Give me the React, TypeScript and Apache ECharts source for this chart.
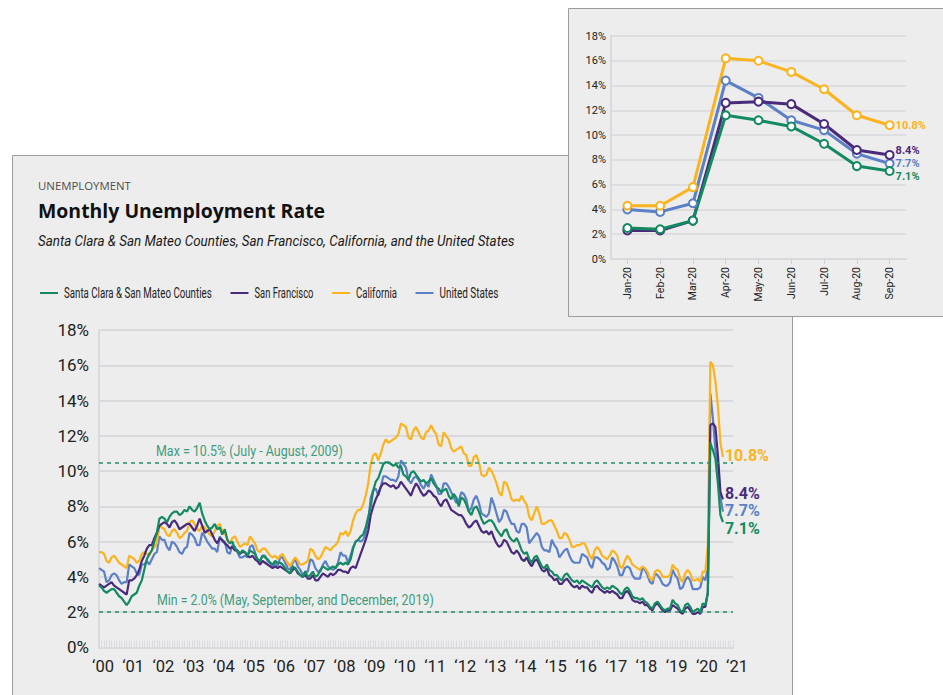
import { useEffect, useRef } from "react";
import * as echarts from "echarts";

// Monthly values, Jan 2000 .. Sep 2020 (percent)
const santaClara = [
  3.5, 3.4, 3.2, 3.1, 3.2, 3.3, 3.3, 3.1, 2.9, 2.8, 2.6, 2.4,
  2.6, 2.9, 3.0, 3.1, 3.5, 3.8, 4.4, 5.0, 5.3, 5.5, 6.0, 6.5,
  7.3, 7.4, 7.3, 7.1, 7.4, 7.6, 7.7, 7.7, 7.5, 7.6, 7.8, 7.7,
  8.0, 7.8, 7.7, 7.9, 8.2, 7.6, 7.2, 6.9, 6.7, 6.8, 7.0, 6.7,
  6.8, 6.4, 6.7, 6.1, 5.9, 6.0, 5.6, 5.5, 5.3, 5.5, 5.4, 5.2,
  5.5, 5.4, 5.3, 5.0, 4.9, 5.2, 5.1, 5.0, 4.8, 4.7, 4.9, 4.8,
  4.8, 4.7, 4.5, 4.3, 4.2, 4.6, 4.5, 4.3, 4.1, 4.0, 4.3, 4.0,
  4.1, 4.3, 4.0, 4.1, 4.4, 4.6, 4.5, 4.4, 4.5, 4.6, 4.5, 4.7,
  4.8, 4.7, 4.8, 4.7, 5.0, 5.6, 6.0, 6.1, 6.3, 6.4, 6.8, 7.4,
  8.0, 8.9, 9.4, 9.6, 10.0, 10.4, 10.5, 10.5, 10.4, 10.3, 10.4, 10.2,
  10.3, 9.8, 9.7, 9.5, 9.9, 10.0, 9.8, 9.6, 9.4, 9.5, 9.3, 9.4,
  9.6, 9.3, 9.1, 9.0, 8.8, 8.9, 9.0, 8.6, 8.4, 8.7, 8.5, 8.0,
  8.5, 8.4, 8.1, 7.7, 7.5, 7.9, 8.0, 7.7, 7.3, 7.0, 7.1, 7.2,
  7.2, 7.0, 6.7, 6.5, 6.3, 6.6, 6.7, 6.3, 6.1, 6.0, 6.2, 5.9,
  5.5, 5.3, 5.4, 5.0, 4.8, 5.1, 5.2, 4.9, 4.6, 4.5, 4.7, 4.4,
  4.3, 4.1, 4.1, 3.9, 3.8, 4.1, 4.2, 4.0, 3.8, 3.7, 3.8, 3.6,
  3.8, 3.7, 3.6, 3.5, 3.4, 3.7, 3.8, 3.6, 3.4, 3.3, 3.4, 3.3,
  3.5, 3.4, 3.3, 3.1, 3.0, 3.3, 3.4, 3.2, 2.9, 2.8, 2.8, 2.7,
  2.8, 2.6, 2.5, 2.3, 2.2, 2.5, 2.6, 2.4, 2.2, 2.1, 2.2, 2.2,
  2.7, 2.5, 2.4, 2.1, 2.0, 2.4, 2.5, 2.3, 2.0, 2.1, 2.2, 2.0,
  2.5, 2.4, 3.1, 11.6, 11.2, 10.7, 9.3, 7.5, 7.1,
];

const sanFrancisco = [
  3.6, 3.5, 3.4, 3.5, 3.6, 3.7, 3.5, 3.4, 3.3, 3.2, 3.1, 3.0,
  3.8, 3.8, 3.9, 4.1, 4.4, 4.9, 5.2, 5.6, 5.8, 5.8, 6.2, 6.5,
  6.9, 7.0, 7.1, 7.0, 6.8, 7.1, 7.2, 7.0, 6.7, 6.8, 6.9, 7.0,
  7.0, 6.8, 6.6, 6.9, 7.3, 6.9, 6.5, 6.6, 6.7, 6.4, 6.1, 5.9,
  6.2, 6.1, 5.9, 5.8, 5.6, 5.7, 5.5, 5.5, 5.3, 5.4, 5.4, 5.2,
  5.1, 5.2, 5.0, 4.9, 4.7, 4.9, 4.8, 4.7, 4.6, 4.5, 4.6, 4.5,
  4.6, 4.5, 4.4, 4.3, 4.2, 4.4, 4.5, 4.2, 4.1, 4.0, 4.1, 3.9,
  3.9, 4.1, 3.8, 3.8, 4.0, 4.2, 4.1, 4.0, 4.2, 4.1, 4.2, 4.4,
  4.4, 4.3, 4.3, 4.2, 4.5, 4.6, 4.5, 4.9, 5.3, 5.7, 6.1, 6.6,
  7.5, 8.0, 8.4, 8.7, 9.1, 9.3, 9.3, 9.2, 9.1, 9.2, 9.0, 9.1,
  9.4, 9.2, 9.0, 8.8, 8.6, 9.0, 9.3, 9.1, 8.8, 8.6, 8.7, 8.9,
  8.8, 8.6, 8.5, 8.2, 8.0, 8.3, 8.4, 8.1, 7.8, 7.7, 7.6, 7.5,
  7.5, 7.3, 7.0, 6.8, 6.9, 7.1, 7.2, 6.9, 6.6, 6.5, 6.6, 6.4,
  6.6, 6.2, 5.9, 5.7, 5.8, 6.1, 6.0, 5.7, 5.4, 5.3, 5.5, 5.3,
  5.0, 4.9, 5.1, 4.8, 4.6, 4.9, 5.0, 4.7, 4.4, 4.3, 4.5, 4.1,
  4.0, 3.8, 3.9, 3.6, 3.6, 3.8, 3.9, 3.7, 3.5, 3.4, 3.5, 3.3,
  3.5, 3.4, 3.4, 3.2, 3.1, 3.4, 3.5, 3.3, 3.2, 3.1, 3.2, 3.1,
  3.2, 3.1, 3.0, 2.8, 2.8, 3.1, 3.2, 3.0, 2.7, 2.6, 2.6, 2.5,
  2.6, 2.4, 2.4, 2.2, 2.1, 2.4, 2.5, 2.3, 2.1, 2.0, 2.1, 2.1,
  2.4, 2.3, 2.2, 2.0, 1.9, 2.2, 2.3, 2.1, 1.9, 1.9, 2.0, 1.9,
  2.3, 2.3, 3.1, 12.6, 12.7, 12.5, 10.9, 8.8, 8.4,
];

const california = [
  5.4, 5.4, 5.3, 4.9, 4.8, 5.1, 5.2, 5.0, 4.8, 4.7, 4.6, 4.5,
  5.2, 5.1, 5.0, 4.8, 4.9, 5.3, 5.4, 5.3, 5.2, 5.5, 5.7, 5.9,
  6.9, 6.8, 6.7, 6.4, 6.3, 6.6, 6.7, 6.5, 6.2, 6.3, 6.5, 6.6,
  7.1, 7.2, 7.0, 6.7, 6.6, 6.9, 6.8, 6.6, 6.4, 6.3, 6.6, 6.9,
  7.0, 6.6, 6.5, 6.1, 5.9, 6.2, 6.3, 6.0, 5.7, 5.8, 5.9, 5.8,
  6.3, 6.1, 5.9, 5.5, 5.4, 5.6, 5.6, 5.4, 5.2, 5.1, 5.2, 5.0,
  5.2, 5.3, 5.0, 4.8, 4.6, 4.9, 5.1, 4.9, 4.7, 4.7, 4.8, 4.9,
  5.6, 5.5, 5.2, 5.0, 5.1, 5.4, 5.7, 5.6, 5.5, 5.7, 5.8, 6.0,
  6.5, 6.4, 6.6, 6.3, 6.6, 7.2, 7.6, 7.8, 7.8, 8.1, 8.6, 9.3,
  10.4, 10.9, 11.0, 10.6, 11.0, 11.5, 11.8, 11.6, 11.7, 11.8, 11.9, 12.1,
  12.7, 12.6, 12.5, 11.9, 11.8, 12.3, 12.5, 12.2, 11.9, 11.8, 12.2, 12.3,
  12.6, 12.3, 12.1, 11.5, 11.4, 12.2, 12.0, 11.8, 11.3, 11.1, 11.2, 11.3,
  11.4, 11.0, 10.9, 10.3, 10.3, 10.8, 10.9, 10.5, 9.8, 9.7, 9.8, 10.2,
  10.0, 9.7, 9.3, 8.8, 8.6, 9.4, 9.3, 8.9, 8.4, 8.3, 8.4, 8.3,
  8.6, 8.3, 8.1, 7.4, 7.2, 7.6, 8.0, 7.6, 7.0, 7.0, 7.1, 7.2,
  7.2, 6.9, 6.6, 6.2, 6.2, 6.5, 6.4, 6.1, 5.7, 5.7, 5.8, 5.8,
  5.9, 5.9, 5.6, 5.2, 5.0, 5.5, 5.7, 5.5, 5.2, 5.1, 5.0, 5.2,
  5.5, 5.4, 5.2, 4.6, 4.5, 4.9, 5.2, 5.0, 4.7, 4.6, 4.5, 4.4,
  4.6, 4.5, 4.3, 3.9, 3.8, 4.3, 4.4, 4.3, 4.0, 4.0, 4.0, 4.1,
  4.7, 4.5, 4.4, 3.9, 3.7, 4.2, 4.4, 4.2, 3.8, 3.8, 3.9, 3.7,
  4.3, 4.3, 5.8, 16.2, 16.0, 15.1, 13.7, 11.6, 10.8,
];

const unitedStates = [
  4.5, 4.4, 4.3, 3.7, 3.8, 4.1, 4.2, 4.1, 3.8, 3.6, 3.7, 3.7,
  4.7, 4.6, 4.5, 4.2, 4.1, 4.7, 4.7, 4.9, 4.7, 5.0, 5.3, 5.4,
  6.3, 6.1, 6.1, 5.7, 5.5, 6.0, 5.9, 5.7, 5.4, 5.3, 5.6, 5.7,
  6.5, 6.4, 6.2, 5.8, 5.8, 6.5, 6.3, 6.0, 5.8, 5.6, 5.6, 5.4,
  6.3, 6.0, 6.0, 5.4, 5.3, 5.8, 5.7, 5.4, 5.1, 5.1, 5.2, 5.1,
  5.7, 5.8, 5.4, 4.9, 4.9, 5.2, 5.2, 4.9, 4.8, 4.6, 4.8, 4.6,
  5.1, 5.1, 4.8, 4.5, 4.4, 4.8, 5.0, 4.6, 4.4, 4.1, 4.3, 4.3,
  5.0, 4.9, 4.5, 4.3, 4.3, 4.7, 4.9, 4.6, 4.5, 4.4, 4.5, 4.8,
  5.4, 5.2, 5.2, 4.8, 5.2, 5.7, 6.0, 6.1, 6.0, 6.1, 6.5, 7.1,
  8.5, 8.9, 9.0, 8.6, 9.1, 9.7, 9.7, 9.6, 9.5, 9.5, 9.4, 9.7,
  10.6, 10.4, 10.2, 9.5, 9.3, 9.6, 9.7, 9.5, 9.2, 9.0, 9.3, 9.1,
  9.8, 9.5, 9.2, 8.7, 8.7, 9.3, 9.3, 9.1, 8.8, 8.5, 8.2, 8.3,
  8.8, 8.7, 8.4, 7.7, 7.9, 8.4, 8.6, 8.2, 7.6, 7.5, 7.4, 7.6,
  8.5, 8.1, 7.6, 7.1, 7.3, 7.8, 7.7, 7.3, 7.0, 7.0, 6.6, 6.5,
  7.0, 7.0, 6.8, 5.9, 6.1, 6.3, 6.5, 6.3, 5.7, 5.5, 5.5, 5.4,
  6.1, 5.8, 5.6, 5.1, 5.3, 5.5, 5.6, 5.2, 4.9, 4.8, 4.8, 4.8,
  5.3, 5.2, 5.1, 4.7, 4.5, 5.1, 5.1, 5.0, 4.8, 4.7, 4.4, 4.5,
  5.1, 4.9, 4.6, 4.1, 4.1, 4.5, 4.6, 4.5, 4.1, 3.9, 3.9, 3.9,
  4.5, 4.4, 4.1, 3.7, 3.6, 4.2, 4.1, 3.9, 3.6, 3.5, 3.5, 3.7,
  4.4, 4.1, 3.9, 3.3, 3.4, 3.8, 4.0, 3.8, 3.3, 3.3, 3.3, 3.4,
  4.0, 3.8, 4.5, 14.4, 13.0, 11.2, 10.4, 8.5, 7.7,
];

const seriesNames = [
  "Santa Clara & San Mateo Counties",
  "San Francisco",
  "California",
  "United States",
];
const yearLabels = [
  "‘00", "‘01", "‘02", "‘03", "‘04", "‘05", "‘06", "‘07", "‘08", "‘09", "‘10",
  "‘11", "‘12", "‘13", "‘14", "‘15", "‘16", "‘17", "‘18", "‘19", "‘20", "‘21",
];
const insetMonths = ["Jan-20", "Feb-20", "Mar-20", "Apr-20", "May-20", "Jun-20", "Jul-20", "Aug-20", "Sep-20"];
const insetStart = 240; // Jan 2020 index
const maxValue = 10.5;
const minValue = 2.0;
const maxText = "Max = 10.5% (July - August, 2009)";
const minText = "Min = 2.0% (May, September, and December, 2019)";
const kicker = "UNEMPLOYMENT";
const title = "Monthly Unemployment Rate";
const subtitle = "Santa Clara & San Mateo Counties, San Francisco, California, and the United States";

const COLORS = ["#138a61", "#4a2b7b", "#fbb31e", "#5b80c6"]; // same order as seriesNames
const FONT = "Roboto";

function measure(text: string, font: string) {
  const ctx = document.createElement("canvas").getContext("2d")!;
  ctx.font = font;
  return ctx.measureText(text).width;
}

// text squeezed horizontally to a target width (the original uses a condensed face)
function squeezed(
  text: string,
  x: number,
  y: number,
  width: number,
  size: number,
  fill: string,
  opts: { weight?: string; style?: string; family?: string } = {}
) {
  const family = opts.family ?? FONT;
  const weight = opts.weight ?? "normal";
  const fstyle = opts.style ?? "normal";
  const w = measure(text, `${fstyle} ${weight} ${size}px ${family}`);
  return {
    type: "text",
    x,
    y,
    scaleX: w > 0 ? width / w : 1,
    z: 5,
    style: {
      text,
      fill,
      fontFamily: family,
      fontSize: size,
      fontWeight: weight,
      fontStyle: fstyle,
      align: "left",
      verticalAlign: "middle",
    },
  };
}

export default function App() {
  const ref = useRef<HTMLDivElement>(null);

  useEffect(() => {
    if (!ref.current) return;
    const chart = echarts.init(ref.current, undefined, { renderer: "svg" });

    const toPairs = (arr: number[]) => arr.map((v, i) => [i, v]);
    const allData = [santaClara, sanFrancisco, california, unitedStates];
    const mainOffsets = [6, -6, -1, -1];
    const insetOffsets = [5, -4, 0, 0];
    const drawOrder = [3, 2, 1, 0];

    const mainSeries: any[] = drawOrder.map((k) => ({
      type: "line",
      name: seriesNames[k],
      xAxisIndex: 0,
      yAxisIndex: 0,
      data: toPairs(allData[k]),
      showSymbol: false,
      symbol: "none",
      lineStyle: { color: COLORS[k], width: 2.2 },
      itemStyle: { color: COLORS[k] },
      endLabel: {
        show: true,
        formatter: (p: any) => `${p.value[1].toFixed(1)}%`,
        color: COLORS[k],
        fontFamily: FONT,
        fontWeight: "bold",
        fontSize: 16,
        lineHeight: 15,
        distance: 2,
        offset: [0, mainOffsets[k]],
      },
      z: 3,
    }));

    mainSeries[3].markLine = {
      silent: true,
      symbol: "none",
      lineStyle: { color: "#1f8f68", type: [4, 4], width: 1.5 },
      label: { show: false },
      data: [{ yAxis: maxValue }, { yAxis: minValue }],
    };

    const insetSeries = drawOrder.map((k) => ({
      type: "line",
      name: seriesNames[k],
      xAxisIndex: 1,
      yAxisIndex: 1,
      data: allData[k].slice(insetStart),
      symbol: "emptyCircle",
      symbolSize: 8,
      lineStyle: { color: COLORS[k], width: 3 },
      itemStyle: { color: COLORS[k], borderWidth: 2.2 },
      endLabel: {
        show: true,
        formatter: (p: any) => `${Number(p.value).toFixed(1)}%`,
        color: COLORS[k],
        fontFamily: FONT,
        fontWeight: "bold",
        fontSize: 11,
        lineHeight: 11,
        distance: 6,
        offset: [0, insetOffsets[k]],
      },
      z: 3,
    }));

    chart.setOption({
      animation: false,
      backgroundColor: "#ffffff",
      grid: [
        { left: 99, top: 330, width: 634, height: 317.4 },
        { left: 611, top: 36, width: 295, height: 223 },
      ],
      xAxis: [
        {
          type: "value",
          gridIndex: 0,
          min: 0,
          max: 252,
          interval: 12,
          axisLine: { show: true, lineStyle: { color: "#d9d9de", width: 2 } },
          axisTick: { show: true, inside: true, length: 7, lineStyle: { color: "#d9d9de" } },
          minorTick: { show: true, splitNumber: 12, length: 7, lineStyle: { color: "#dcdce0" } },
          splitLine: { show: false },
          axisLabel: {
            formatter: (v: number) => yearLabels[Math.round(v / 12)] ?? "",
            fontFamily: FONT,
            fontSize: 16.5,
            color: "#222",
            margin: 11,
            padding: [0, 0, 0, 8],
          },
        },
        {
          type: "category",
          gridIndex: 1,
          data: insetMonths,
          boundaryGap: true,
          axisLine: { show: true, lineStyle: { color: "#d9d9de", width: 2 } },
          axisTick: { show: true, alignWithLabel: true, length: 5, lineStyle: { color: "#d0d0d4" } },
          axisLabel: {
            rotate: 90,
            fontFamily: FONT,
            fontSize: 10.5,
            color: "#222",
            margin: 8,
          },
        },
      ],
      yAxis: [
        {
          type: "value",
          gridIndex: 0,
          min: 0,
          max: 18,
          interval: 2,
          axisLine: { show: true, lineStyle: { color: "#d9d9de", width: 2 } },
          axisTick: { show: false },
          splitLine: { show: true, lineStyle: { color: "#d9d9de", width: 2 } },
          axisLabel: {
            formatter: "{value}%",
            fontFamily: FONT,
            fontSize: 17,
            color: "#222",
            margin: 10,
            padding: [10, 0, 0, 0],
          },
        },
        {
          type: "value",
          gridIndex: 1,
          min: 0,
          max: 18,
          interval: 2,
          axisLine: { show: true, lineStyle: { color: "#d9d9de", width: 2 } },
          axisTick: { show: false },
          splitLine: { show: true, lineStyle: { color: "#d9d9de", width: 1.5 } },
          axisLabel: {
            formatter: "{value}%",
            fontFamily: FONT,
            fontSize: 11,
            color: "#222",
            margin: 5,
            padding: [2, 0, 0, 0],
          },
        },
      ],
      series: [...mainSeries, ...insetSeries],
    });

    // annotations positioned through the chart's own scale
    const gridLeft = chart.convertToPixel({ xAxisIndex: 0 }, 0) as number;
    const yMax = chart.convertToPixel({ yAxisIndex: 0 }, maxValue) as number;
    const yMin = chart.convertToPixel({ yAxisIndex: 0 }, minValue) as number;

    // legend, drawn by hand so its texts can be condensed like the original
    const legendWidths = [148, 59, 41, 59];
    const legendEls: any[] = [];
    let lx = 40;
    const ly = 293;
    seriesNames.forEach((name, k) => {
      legendEls.push({
        type: "rect",
        z: 5,
        shape: { x: lx, y: ly - 1, width: 18, height: 2 },
        style: { fill: COLORS[k] },
      });
      legendEls.push(squeezed(name, lx + 24, ly, legendWidths[k], 14.5, "#222"));
      lx += 24 + legendWidths[k] + 18.5;
    });

    chart.setOption({
      graphic: [
        {
          type: "rect",
          z: -10,
          shape: { x: 12.5, y: 155.5, width: 780, height: 560 },
          style: { fill: "#ededed", stroke: "#9c9c9c", lineWidth: 1 },
        },
        {
          type: "rect",
          z: -9,
          shape: { x: 568.5, y: 8.5, width: 400, height: 308 },
          style: { fill: "#ededed", stroke: "#9c9c9c", lineWidth: 1 },
        },
        squeezed(kicker, 38, 186, 93, 11, "#4d4d4d", { family: '"Open Sans"' }),
        squeezed(title, 38, 210, 287, 20, "#111", { family: '"Open Sans"', weight: "bold" }),
        squeezed(subtitle, 38, 241, 477, 15.5, "#1a1a1a", { style: "italic" }),
        ...legendEls,
        squeezed(maxText, gridLeft + 57, yMax - 12, 187, 14.5, "#3d9c7c"),
        squeezed(minText, gridLeft + 58, yMin - 13, 277, 14.5, "#3d9c7c"),
      ],
    });

    return () => chart.dispose();
  }, []);

  return (
    <div
      ref={ref}
      style={{ position: "fixed", left: 0, top: 0, width: 943, height: 695 }}
    />
  );
}
